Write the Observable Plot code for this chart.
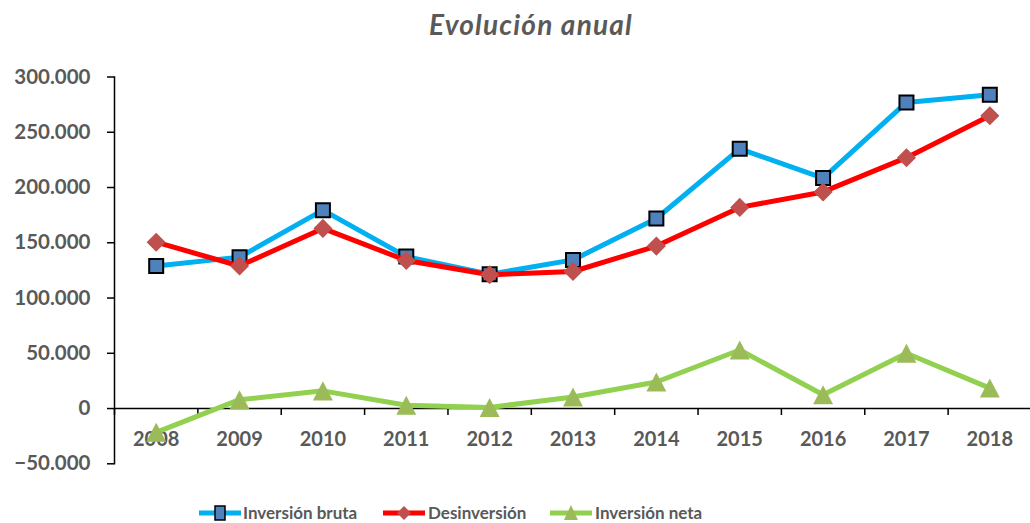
<!DOCTYPE html>
<html>
<head>
<meta charset="utf-8">
<script src="https://cdn.jsdelivr.net/npm/d3@7"></script>
<script src="https://cdn.jsdelivr.net/npm/@observablehq/plot@0.6"></script>
<style>
  html, body { margin: 0; padding: 0; background: #fff; }
  #wrap { position: relative; width: 1030px; height: 523px; overflow: hidden; font-family: Lato, sans-serif; }
  #title { position: absolute; left: 0; width: 1062px; top: 10px; text-align: center; font: italic bold 28px/28px Lato, sans-serif; letter-spacing: 1.2px; color: #595959; }
  #chart { position: absolute; left: 0; top: 56px; }
  .lg-sw { position: absolute; top: 503px; }
  .lg-tx { position: absolute; top: 504px; font: bold 17px/18px Lato, sans-serif; color: #595959; white-space: nowrap; }
</style>
</head>
<body>
<div id="wrap">
  <div id="title">Evolución anual</div>
  <div id="chart"></div>
  <div id="legend"></div>
</div>
<script>
const years = ["2008","2009","2010","2011","2012","2013","2014","2015","2016","2017","2018"];
const inversionBruta = [129000,137000,179500,137500,121500,134500,172000,235000,208500,277000,284000];
const desinversion   = [150500,129000,163000,134000,121000,124000,147000,182000,196000,227000,265000];
const inversionNeta  = [-21500,8000,16000,3000,1000,10500,24000,53000,12500,50000,18500];
const yTicks = [-50000,0,50000,100000,150000,200000,250000,300000];
const seriesNames = ["Inversión bruta","Desinversión","Inversión neta"];

const rows = (vals) => years.map((y, i) => ({year: y, value: vals[i]}));
const bruta = rows(inversionBruta), desin = rows(desinversion), neta = rows(inversionNeta);

// triangle centred on its bounding box (like the spreadsheet marker)
const triBox = {
  draw(ctx, size) {
    const k = Math.sqrt(size / Math.PI);
    const hw = 1.33 * k, hh = 1.27 * k;
    ctx.moveTo(0, -hh); ctx.lineTo(hw, hh); ctx.lineTo(-hw, hh); ctx.closePath();
  }
};

const fmt = d => d3.format(",")(d).replace(/,/g, ".");
const H = 440, plotTop = 20.5, plotBottom = 407.3;
const step = (1031 - 114) / years.length;

const chart = Plot.plot({
  width: 1030,
  height: H,
  marginLeft: 114,
  marginRight: 0,
  marginTop: plotTop,
  marginBottom: H - plotBottom,
  style: {fontFamily: "Lato, sans-serif", color: "black", background: "white"},
  x: {type: "point", domain: years, range: [114, 1031], padding: 0.5, round: false, axis: null},
  y: {domain: [-50000, 300000], range: [plotBottom, plotTop], axis: null},
  marks: [
    Plot.axisY({ticks: yTicks, tickFormat: fmt, tickSize: 7, tickPadding: 17, fontSize: 20.5, fontWeight: "bold", stroke: "black", fill: "#595959", strokeWidth: 1.5, label: null}),
    Plot.frame({anchor: "left", stroke: "black", strokeWidth: 1.5}),
    Plot.ruleY([0], {stroke: "black", strokeWidth: 1.5}),
    Plot.ruleX(years, {x: d => d, y1: () => 0, y2: () => -6300, dx: -step / 2, stroke: "black", strokeWidth: 1.5}),
    Plot.text(years, {x: d => d, y: () => 0, text: d => d, dy: 31, fontSize: 20, fontWeight: "bold", fill: "#595959", lineAnchor: "middle"}),
    Plot.line(bruta, {x: "year", y: "value", stroke: "#00B0F0", strokeWidth: 5, strokeLinejoin: "round"}),
    Plot.dot(bruta, {x: "year", y: "value", symbol: "square", r: 7.9, fill: "#4F81BD", stroke: "black", strokeWidth: 2}),
    Plot.line(desin, {x: "year", y: "value", stroke: "#FF0000", strokeWidth: 5, strokeLinejoin: "round"}),
    Plot.dot(desin, {x: "year", y: "value", symbol: "diamond2", r: 8.6, fill: "#C0504D", stroke: "none"}),
    Plot.line(neta, {x: "year", y: "value", stroke: "#92D050", strokeWidth: 5, strokeLinejoin: "round"}),
    Plot.dot(neta, {x: "year", y: "value", symbol: triBox, r: 7.5, fill: "#9BBB59", stroke: "none"})
  ]
});
document.getElementById("chart").appendChild(chart);

// legend
const legendItems = [
  {name: seriesNames[0], line: "#00B0F0", x: 199, tx: 243,
   marker: '<rect x="16" y="3" width="10" height="14" fill="#4F81BD" stroke="black" stroke-width="1.5"/>'},
  {name: seriesNames[1], line: "#FF0000", x: 383, tx: 428,
   marker: '<path d="M21,3 L28,10 L21,17 L14,10 Z" fill="#C0504D"/>'},
  {name: seriesNames[2], line: "#92D050", x: 550, tx: 595,
   marker: '<path d="M21,2 L28,17 L14,17 Z" fill="#9BBB59"/>'}
];
const lg = document.getElementById("legend");
for (const it of legendItems) {
  const sw = document.createElement("div");
  sw.className = "lg-sw";
  sw.style.left = it.x + "px";
  sw.innerHTML = `<svg width="42" height="20" viewBox="0 0 42 20"><line x1="0" y1="10" x2="42" y2="10" stroke="${it.line}" stroke-width="5"/>${it.marker}</svg>`;
  lg.appendChild(sw);
  const tx = document.createElement("div");
  tx.className = "lg-tx";
  tx.style.left = it.tx + "px";
  tx.textContent = it.name;
  lg.appendChild(tx);
}
</script>
</body>
</html>
